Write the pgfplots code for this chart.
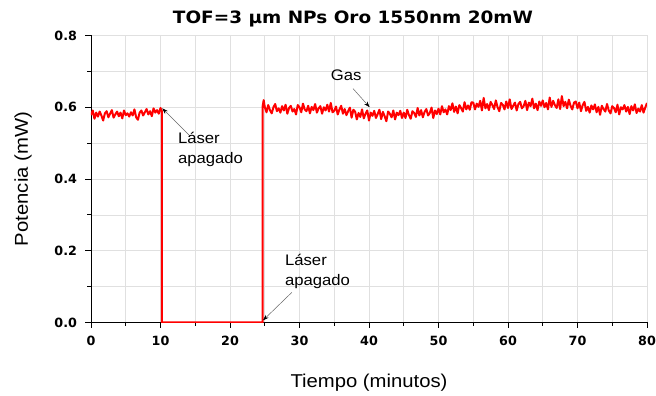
\documentclass[border=0pt]{standalone}
\usepackage{pgfplots}
\pgfplotsset{compat=1.18}
\usepackage{fontspec}
\setmainfont{Liberation Sans}[FakeStretch=1.09]
\newfontfamily\titlefont{DejaVu Sans}[FakeStretch=1.085]
\newfontfamily\tickfont{DejaVu Sans}
\usetikzlibrary{arrows.meta}
\begin{document}
\begin{tikzpicture}
\begin{axis}[
  scale only axis, width=556pt, height=287pt,
  xmin=0, xmax=80, ymin=0, ymax=0.8,
  axis x line*=bottom, axis y line*=left,
  xtick={0,10,20,30,40,50,60,70,80}, minor x tick num=1,
  ytick={0,0.2,0.4,0.6,0.8}, minor y tick num=1,
  grid=both,
  major grid style={black!12, line width=0.6pt},
  minor grid style={black!12, line width=0.6pt},
  tick align=outside, major tick length=5.5pt, minor tick length=3.5pt,
  tick style={black, line width=0.8pt},
  axis line style={black, line width=0.8pt, -},
  /pgf/number format/assume math mode=true,
  ticklabel style={font=\tickfont\bfseries\fontsize{12.7}{14}\selectfont},
  yticklabel style={/pgf/number format/fixed, /pgf/number format/fixed zerofill, /pgf/number format/precision=1, xshift=-5pt},
  xticklabel style={yshift=-5pt},
  xlabel={Tiempo (minutos)}, ylabel={Potencia (mW)},
  label style={font=\fontsize{18.6}{20}\selectfont},
  xlabel style={at={(axis description cs:0.5,0)}, anchor=center, yshift=-60pt},
  ylabel style={at={(axis description cs:0,0.5)}, anchor=center, yshift=68pt},
  title={TOF=3 µm NPs Oro 1550nm 20mW},
  title style={at={(axis description cs:0.5,1)}, anchor=center, yshift=11pt, xshift=-16pt, font=\titlefont\bfseries\fontsize{17}{20}\selectfont},
]
\addplot[red, line width=2pt, line join=round] coordinates {
(0,0.578)(0.25,0.591)(0.5,0.568)(0.75,0.585)(1,0.574)(1.25,0.588)(1.5,0.577)(1.75,0.563)
(2,0.583)(2.25,0.589)(2.5,0.572)(2.75,0.582)(3,0.592)(3.25,0.571)(3.5,0.580)(3.75,0.588)
(4,0.575)(4.25,0.585)(4.5,0.569)(4.75,0.591)(5,0.578)(5.25,0.583)(5.5,0.574)(5.75,0.586)
(6,0.577)(6.25,0.594)(6.5,0.572)(6.75,0.565)(7,0.585)(7.25,0.591)(7.5,0.577)(7.75,0.586)
(8,0.595)(8.25,0.580)(8.5,0.589)(8.75,0.575)(9,0.597)(9.25,0.585)(9.5,0.592)(9.75,0.582)
(10,0.598)(10.2,0.589)(10.2,0)(24.7,0)(24.7,0.603)(24.85,0.620)
(25.00,0.601)(25.25,0.586)(25.50,0.606)(25.75,0.592)(26.00,0.583)(26.25,0.600)(26.50,0.609)(26.75,0.589)
(27.00,0.597)(27.25,0.585)(27.50,0.603)(27.75,0.591)(28.00,0.607)(28.25,0.582)(28.50,0.598)(28.75,0.604)
(29.00,0.588)(29.25,0.595)(29.50,0.580)(29.75,0.606)(30.00,0.600)(30.25,0.586)(30.50,0.610)(30.75,0.594)
(31.00,0.589)(31.25,0.604)(31.50,0.583)(31.75,0.601)(32.00,0.592)(32.25,0.609)(32.50,0.585)(32.75,0.597)
(33.00,0.603)(33.25,0.582)(33.50,0.600)(33.75,0.591)(34.00,0.607)(34.25,0.588)(34.50,0.612)(34.75,0.586)
(35.00,0.590)(35.25,0.602)(35.50,0.580)(35.75,0.594)(36.00,0.604)(36.25,0.582)(36.50,0.595)(36.75,0.578)
(37.00,0.589)(37.25,0.599)(37.50,0.571)(37.75,0.593)
(38.00,0.588)(38.25,0.566)(38.50,0.584)(38.75,0.573)(39.00,0.594)(39.25,0.569)(39.50,0.582)(39.75,0.591)
(40.00,0.563)(40.25,0.585)(40.50,0.576)(40.75,0.590)(41.00,0.570)(41.25,0.581)(41.50,0.593)(41.75,0.567)
(42.00,0.587)(42.25,0.575)(42.50,0.561)(42.75,0.588)(43.00,0.582)(43.25,0.572)(43.50,0.591)(43.75,0.566)
(44.00,0.585)(44.25,0.578)(44.50,0.590)(44.75,0.570)
(45.00,0.585)(45.25,0.570)(45.50,0.593)(45.75,0.578)(46.00,0.568)(46.25,0.589)(46.50,0.584)(46.75,0.573)
(47.00,0.598)(47.25,0.577)(47.50,0.592)(47.75,0.572)(48.00,0.587)(48.25,0.595)(48.50,0.577)(48.75,0.584)
(49.00,0.599)(49.25,0.570)(49.50,0.591)(49.75,0.581)
(50.00,0.596)(50.25,0.580)(50.50,0.603)(50.75,0.586)(51.00,0.594)(51.25,0.580)(51.50,0.603)(51.75,0.592)
(52.00,0.611)(52.25,0.587)(52.50,0.602)(52.75,0.583)(53.00,0.606)(53.25,0.598)(53.50,0.588)(53.75,0.614)
(54.00,0.594)(54.25,0.605)(54.50,0.593)(54.75,0.614)
(55.00,0.613)(55.25,0.594)(55.50,0.610)(55.75,0.601)(56.00,0.618)(56.25,0.591)(56.50,0.626)(56.75,0.597)
(57.00,0.609)(57.25,0.592)(57.50,0.615)(57.75,0.606)(58.00,0.595)(58.25,0.619)(58.50,0.600)(58.75,0.589)
(59.00,0.612)(59.25,0.607)(59.50,0.594)(59.75,0.616)(60.00,0.598)(60.25,0.622)(60.50,0.595)(60.75,0.604)
(61.00,0.613)(61.25,0.591)(61.50,0.609)(61.75,0.615)(62.00,0.597)(62.25,0.603)(62.50,0.618)(62.75,0.592)
(63.00,0.613)(63.25,0.603)(63.50,0.624)(63.75,0.597)(64.00,0.610)(64.25,0.592)(64.50,0.616)(64.75,0.604)
(65.00,0.619)(65.25,0.600)(65.50,0.612)(65.75,0.594)(66.00,0.627)(66.25,0.601)(66.50,0.618)(66.75,0.606)
(67.00,0.598)(67.25,0.622)(67.50,0.595)(67.75,0.631)(68.00,0.603)(68.25,0.615)(68.50,0.597)(68.75,0.621)
(69.00,0.604)(69.25,0.594)(69.50,0.613)(69.75,0.616)
(70.00,0.597)(70.25,0.613)(70.50,0.589)(70.75,0.606)(71.00,0.615)(71.25,0.590)(71.50,0.601)(71.75,0.585)
(72.00,0.605)(72.25,0.594)(72.50,0.608)(72.75,0.586)(73.00,0.601)(73.25,0.579)(73.50,0.604)(73.75,0.595)
(74.00,0.588)(74.25,0.609)(74.50,0.591)(74.75,0.583)(75.00,0.603)(75.25,0.598)(75.50,0.586)(75.75,0.607)
(76.00,0.580)(76.25,0.600)(76.50,0.594)(76.75,0.606)(77.00,0.588)(77.25,0.601)(77.50,0.581)(77.75,0.603)
(78.00,0.591)(78.25,0.608)(78.50,0.584)(78.75,0.596)(79.00,0.588)(79.25,0.606)(79.50,0.585)(79.75,0.599)
(80.00,0.612)
};
\draw[black!60, line width=0.5pt, -{Stealth[black, length=6pt, width=4pt]}] (axis cs:14.2,0.521) -- (axis cs:10.25,0.597);
\node[anchor=north west, align=left, font=\fontsize{15.3}{20}\selectfont, inner sep=0pt] at (axis cs:12.5,0.530) {Láser\\apagado};
\draw[black!60, line width=0.5pt, -{Stealth[black, length=6pt, width=4pt]}] (axis cs:28.9,0.084) -- (axis cs:24.75,0.006);
\node[anchor=north west, align=left, font=\fontsize{15.3}{20}\selectfont, inner sep=0pt] at (axis cs:27.9,0.190) {Láser\\apagado};
\draw[black!60, line width=0.5pt, -{Stealth[black, length=6pt, width=4pt]}] (axis cs:37.7,0.652) -- (axis cs:40.1,0.600);
\node[anchor=north west, font=\fontsize{15.3}{20}\selectfont, inner sep=0pt] at (axis cs:34.5,0.705) {Gas};
\end{axis}
\pgfresetboundingbox
\path[use as bounding box] (current axis.south west) ++(-91pt,-73.5pt) rectangle ++(656pt,396pt);
\end{tikzpicture}
\end{document}
